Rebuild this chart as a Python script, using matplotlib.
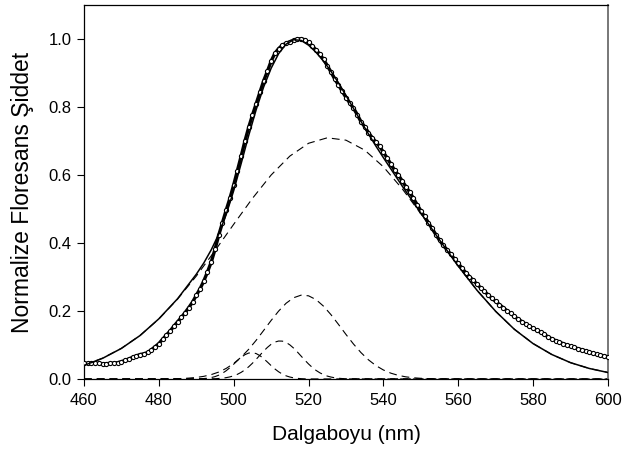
import numpy as np
import matplotlib
matplotlib.use("Agg")
import matplotlib.pyplot as plt

plt.rcParams['font.family'] = ['Liberation Sans', 'DejaVu Sans']

# Experimental spectrum (normalized), 1 nm step
wl_data = list(range(460, 601))
intensity = [
    0.047, 0.046, 0.046, 0.047, 0.046, 0.045, 0.045, 0.046, 0.047, 0.048,
    0.051, 0.055, 0.059, 0.064, 0.068, 0.072, 0.074, 0.078, 0.086, 0.095,
    0.104, 0.117, 0.129, 0.141, 0.155, 0.168, 0.181, 0.195, 0.210, 0.226,
    0.246, 0.265, 0.288, 0.315, 0.344, 0.381, 0.423, 0.460, 0.497, 0.532,
    0.571, 0.613, 0.656, 0.700, 0.740, 0.776, 0.810, 0.845, 0.877, 0.905,
    0.935, 0.958, 0.972, 0.982, 0.988, 0.992, 0.997, 1.000, 1.001, 0.998,
    0.990, 0.980, 0.968, 0.956, 0.940, 0.922, 0.903, 0.882, 0.865, 0.846,
    0.828, 0.812, 0.797, 0.778, 0.757, 0.742, 0.725, 0.710, 0.697, 0.684,
    0.667, 0.650, 0.632, 0.614, 0.600, 0.583, 0.566, 0.550, 0.532, 0.513,
    0.495, 0.478, 0.460, 0.443, 0.425, 0.408, 0.393, 0.380, 0.367, 0.353,
    0.340, 0.326, 0.313, 0.301, 0.290, 0.279, 0.268, 0.258, 0.247, 0.237,
    0.228, 0.219, 0.210, 0.201, 0.193, 0.184, 0.176, 0.169, 0.162, 0.155,
    0.149, 0.143, 0.137, 0.131, 0.124, 0.118, 0.113, 0.109, 0.104, 0.100,
    0.097, 0.093, 0.089, 0.086, 0.083, 0.079, 0.076, 0.073, 0.070, 0.068,
    0.065,
]

# Total fit
wl_fit = [460, 465, 470, 475, 480, 485, 490, 492, 494, 496, 498, 500, 502, 504,
          506, 508, 510, 512, 514, 516, 518, 520, 522, 524, 526, 528, 530, 532,
          534, 536, 538, 540, 545, 550, 555, 560, 565, 570, 575, 580, 585, 590,
          595, 600]
fit = [0.040, 0.061, 0.090, 0.128, 0.177, 0.236, 0.308, 0.341, 0.380, 0.426,
       0.484, 0.554, 0.634, 0.716, 0.792, 0.859, 0.914, 0.957, 0.985, 0.998,
       0.996, 0.982, 0.961, 0.935, 0.905, 0.871, 0.834, 0.796, 0.758, 0.721,
       0.685, 0.651, 0.568, 0.488, 0.409, 0.332, 0.261, 0.199, 0.146, 0.104,
       0.072, 0.048, 0.031, 0.019]

# Component 1 (broad)
wl_c1 = [460, 465, 470, 475, 480, 485, 490, 495, 500, 505, 510, 515, 520, 525,
         530, 535, 540, 545, 550, 555, 560, 565, 570, 575, 580, 585, 590, 595, 600]
comp1 = [0.0404, 0.0614, 0.0902, 0.1283, 0.1765, 0.2350, 0.3026, 0.3774, 0.4551,
         0.5312, 0.6000, 0.6557, 0.6934, 0.7095, 0.7025, 0.6732, 0.6241, 0.5599,
         0.4861, 0.4083, 0.3319, 0.2610, 0.1987, 0.1463, 0.1043, 0.0719, 0.0480,
         0.0310, 0.0194]

# Component 2
wl_c2 = [460, 480, 482, 484, 486, 488, 490, 492, 494, 496, 498, 500, 502, 504,
         506, 508, 510, 512, 514, 516, 518, 520, 522, 524, 526, 528, 530, 532,
         534, 536, 538, 540, 542, 544, 546, 548, 550, 552, 554, 556, 558, 560, 600]
comp2 = [0.0, 0.0002, 0.0004, 0.0007, 0.0014, 0.0026, 0.0046, 0.0078, 0.0129,
         0.0204, 0.0312, 0.0457, 0.0644, 0.0873, 0.1138, 0.1428, 0.1722, 0.1997,
         0.2228, 0.2390, 0.2466, 0.2447, 0.2335, 0.2142, 0.1891, 0.1605, 0.1310,
         0.1029, 0.0777, 0.0564, 0.0394, 0.0265, 0.0171, 0.0106, 0.0063, 0.0036,
         0.0020, 0.0011, 0.0005, 0.0003, 0.0001, 0.0001, 0.0]

# Component 3
wl_c3 = [460] + list(range(495, 531)) + [600]
comp3 = [0.0, 0.0008, 0.0015, 0.0024, 0.0040, 0.0062, 0.0094, 0.0138, 0.0196,
         0.0269, 0.0359, 0.0463, 0.0579, 0.0700, 0.0820, 0.0929, 0.1021, 0.1085,
         0.1117, 0.1114, 0.1075, 0.1004, 0.0909, 0.0796, 0.0675, 0.0555, 0.0441,
         0.0340, 0.0253, 0.0183, 0.0128, 0.0086, 0.0057, 0.0036, 0.0022, 0.0013,
         0.0008, 0.0]

# Component 4
wl_c4 = [460] + list(range(490, 521)) + [600]
comp4 = [0.0, 0.0003, 0.0007, 0.0013, 0.0024, 0.0042, 0.0070, 0.0112, 0.0169,
         0.0244, 0.0334, 0.0436, 0.0540, 0.0637, 0.0715, 0.0763, 0.0774, 0.0748,
         0.0687, 0.0600, 0.0499, 0.0394, 0.0296, 0.0212, 0.0144, 0.0093, 0.0058,
         0.0034, 0.0019, 0.0010, 0.0005, 0.0002, 0.0]

x_ticks = [460, 480, 500, 520, 540, 560, 580, 600]
y_ticks = [0.0, 0.2, 0.4, 0.6, 0.8, 1.0]

fig = plt.figure(figsize=(6.23, 4.59), dpi=100)
ax = fig.add_axes([0.1348, 0.1743, 0.8411, 0.8147])

dash = (0, (7, 4.5))
for wx, wy in [(wl_c1, comp1), (wl_c2, comp2), (wl_c3, comp3), (wl_c4, comp4)]:
    ax.plot(wx, wy, color='black', lw=0.8, linestyle=dash, zorder=2)

ax.plot(wl_data, intensity, color='black', lw=2.4, zorder=3)
ax.plot(wl_data, intensity, linestyle='none', marker='o', markersize=3.0,
        markerfacecolor='white', markeredgecolor='black', markeredgewidth=0.8,
        zorder=4)
ax.plot(wl_fit, fit, color='black', lw=1.1, zorder=5)

ax.set_xlim(460, 600)
ax.set_ylim(0, 1.1)
ax.set_xticks(x_ticks)
ax.set_yticks(y_ticks)
ax.set_xticklabels([str(v) for v in x_ticks])
ax.set_yticklabels([f"{v:.1f}" for v in y_ticks])
ax.tick_params(direction='out', length=5, width=0.8, labelsize=12, colors='black')
ax.tick_params(axis='x', pad=5)
ax.tick_params(axis='y', pad=4)
for s in ['left', 'bottom', 'top']:
    ax.spines[s].set_linewidth(0.9)
    ax.spines[s].set_color('black')
ax.spines['right'].set_color('#777777')
ax.spines['right'].set_linewidth(1.4)

ax.set_xlabel('Dalgaboyu (nm)', fontsize=15, labelpad=12)
ax.set_ylabel('Normalize Floresans Şiddet', fontsize=16.5, labelpad=10)

fig.savefig('out.png', dpi=100)
